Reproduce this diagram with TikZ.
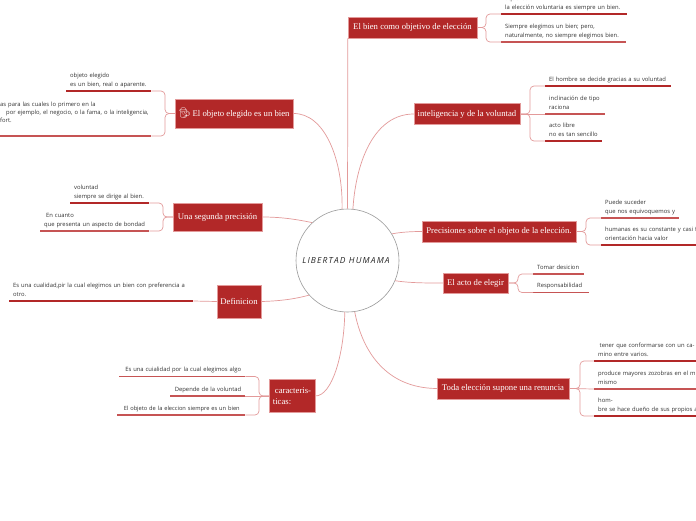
\documentclass[tikz,border=0pt]{standalone}
\usepackage{fontspec}
\setmainfont{Liberation Serif}
\setsansfont{Open Sans}
\newfontfamily\hubfont[LetterSpace=14]{Open Sans}
\newfontfamily\iconfont{Noto Emoji}
\usepackage{xcolor}
\usepackage{tikz}
\definecolor{BrickRed}{HTML}{B22828}
\definecolor{SoftRed}{HTML}{C65454}
\definecolor{PaleRed}{HTML}{E39A9A}
\definecolor{LeafInk}{HTML}{333333}

\begin{document}
\begin{tikzpicture}[
      x=1pt, y=-1pt,
      hub/.style={circle, draw=black!40, line width=0.6pt, fill=white,
                  minimum size=103pt, inner sep=0pt, text=black!85,
                  font=\hubfont\itshape\fontsize{8.4}{10}\selectfont},
      topic/.style={rectangle, draw=PaleRed, line width=0.5pt, fill=BrickRed,
                    text=white, align=center, inner sep=0pt,
                    font=\rmfamily\fontsize{8.7}{10.5}\selectfont},
      leaf/.style={inner xsep=4pt, inner ysep=0pt, text=LeafInk,
                   anchor=south west, align=left,
                   execute at end node={\rule[-4.5pt]{0pt}{4.5pt}},
                   font=\sffamily\fontsize{5.85}{8.4}\selectfont},
      ua/.style={line width=1.5pt, draw=BrickRed},
      ub/.style={line width=1.5pt, draw=SoftRed},
      link/.style={draw=PaleRed, line width=0.7pt},
      fork/.style={draw=PaleRed, line width=0.7pt, rounded corners=4pt},
    ]
      \clip (0,0) rectangle (696,520);
      \fill[white] (0,0) rectangle (696,520);

      \node[hub] (lib) at (347.5,260.5) {\hspace*{-3pt}LIBERTAD HUMAMA};

      % right side
      \node[topic, minimum width=129pt, minimum height=21pt] (bien) at (412.5,27.5) {El bien como objetivo de elección};
      \node[topic, minimum width=106pt, minimum height=21pt] (intel) at (467,114) {inteligencia y de la voluntad};
      \node[topic, minimum width=154pt, minimum height=21pt] (prec) at (499,231.5) {Precisiones sobre el objeto de la elección.};
      \node[topic, minimum width=65pt, minimum height=20pt] (acto) at (475.5,283) {El acto de elegir};
      \node[topic, minimum width=132pt, minimum height=21pt] (toda) at (503,388.5) {Toda elección supone una renuncia};

      % left side
      \node[topic, minimum width=118pt, minimum height=29pt] (obj) at (234,113.5) {{\iconfont\fontsize{10}{10}\selectfont 🕵}\,El objeto elegido es un bien};
      \node[topic, minimum width=89pt, minimum height=28pt] (seg) at (217.5,217) {Una segunda precisión};
      \node[topic, minimum width=44pt, minimum height=33pt] (defi) at (239,301.5) {Definicion};
      \node[topic, minimum width=46pt, minimum height=33pt, align=left] (car) at (292,396) {\hspace*{2pt}caracteris-\\ticas:};

      % leaves
      \node[leaf, text width=118pt] (b1) at (501,14) {aquel so\\la elección voluntaria es siempre un bien.};
      \node[leaf, text width=117pt] (b2) at (501,42) {Siempre elegimos un bien; pero,\\naturalmente, no siempre elegimos bien.};

      \node[leaf, text width=118pt] (i1) at (545,86) {El hombre se decide gracias a su voluntad};
      \node[leaf, text width=52pt]  (i2) at (545,114) {inclinación de tipo\\raciona};
      \node[leaf, text width=49pt]  (i3) at (545,141) {acto libre\\no es tan sencillo};

      \node[leaf, text width=70pt]  (p1) at (601,218) {Puede suceder\\que nos equivoquemos y};
      \node[leaf, text width=110pt] (p2) at (601,245) {humanas es su constante y casi f\\orientación hacia valor};

      \node[leaf, text width=43pt] (a1) at (533,274) {Tomar desicion};
      \node[leaf, text width=48pt] (a2) at (533,292.5) {Responsabilidad};

      \node[leaf, text width=110pt] (t1) at (594,361) {\hspace*{1.5pt}tener que conformarse con un ca-\\mino entre varios.};
      \node[leaf, text width=110pt] (t2) at (594,389) {produce mayores zozobras en el m\\mismo};
      \node[leaf, text width=110pt] (t3) at (594,416) {hom-\\bre se hace dueño de sus propios a};

      \node[leaf, text width=77pt]  (o1) at (66,91) {objeto elegido\\es un bien, real o aparente.};
      \node[leaf, text width=151pt, inner xsep=0pt,
            execute at end node={\rule[-13pt]{0pt}{13pt}}] (o2) at (0,136) {as para las cuales lo primero en la\\\hspace*{6pt}por ejemplo, el negocio, o la fama, o la inteligencia,\\fort.};

      \node[leaf, text width=71pt]  (s1) at (70,203) {voluntad\\siempre se dirige al bien.};
      \node[leaf, text width=101pt] (s2) at (40,231) {\hspace*{2pt}En cuanto\\que presenta un aspecto de bondad};

      \node[leaf, text width=176pt] (d1) at (9,301) {Es una cualidad,pir la cual elegimos un bien con preferencia a\\otro.};

      \node[leaf, text width=118pt, align=right] (c1) at (119,376.5) {Es una cuialidad por la cual elegimos algo};
      \node[leaf, text width=67pt, align=right]  (c2) at (170,396) {Depende de la voluntad};
      \node[leaf, text width=120pt, align=right,
            font=\sffamily\fontsize{5.7}{8.4}\selectfont] (c3) at (117,415) {El objeto de la eleccion siempre es un bien\hspace*{1.5pt}};

      % underlines
      \draw[ua] (b1.south west) -- (b1.south east);
      \draw[ub] (b2.south west) -- (b2.south east);
      \draw[ua] (i1.south west) -- (i1.south east);
      \draw[ub] (i2.south west) -- (i2.south east);
      \draw[ua] (i3.south west) -- (i3.south east);
      \draw[ub] (p1.south west) -- (p1.south east);
      \draw[ua] (p2.south west) -- (p2.south east);
      \draw[ub] (a1.south west) -- (a1.south east);
      \draw[ub] (a2.south west) -- (a2.south east);
      \draw[ua] (t1.south west) -- (t1.south east);
      \draw[ub] (t2.south west) -- (t2.south east);
      \draw[ua] (t3.south west) -- (t3.south east);
      \draw[ua] (o1.south west) -- (o1.south east);
      \draw[ub] (o2.south west) -- (o2.south east);
      \draw[ua] (s1.south west) -- (s1.south east);
      \draw[ub] (s2.south west) -- (s2.south east);
      \draw[ua] (d1.south west) -- (d1.south east);
      \draw[ub] (c1.south west) -- (c1.south east);
      \draw[ub] (c2.south west) -- (c2.south east);
      \draw[ub] (c3.south west) -- (c3.south east);

      % forks
      \draw[fork] (bien.east) -- (486,27.5) |- (b1.south west);
      \draw[fork] (bien.east) -- (486,27.5) |- (b2.south west);
      \draw[fork] (intel.east) -- (530,114) |- (i1.south west);
      \draw[link] (intel.east) -- (i2.south west);
      \draw[fork] (intel.east) -- (530,114) |- (i3.south west);
      \draw[fork] (prec.east) -- (586,231.5) |- (p1.south west);
      \draw[fork] (prec.east) -- (586,231.5) |- (p2.south west);
      \draw[fork] (acto.east) -- (518,283) |- (a1.south west);
      \draw[fork] (acto.east) -- (518,283) |- (a2.south west);
      \draw[fork] (toda.east) -- (580,388.5) |- (t1.south west);
      \draw[link] (toda.east) -- (t2.south west);
      \draw[fork] (toda.east) -- (580,388.5) |- (t3.south west);
      \draw[fork] (obj.west) -- (165,113.5) |- (o1.south east);
      \draw[fork] (obj.west) -- (165,113.5) |- (o2.south east);
      \draw[fork] (seg.west) -- (163,217) |- (s1.south east);
      \draw[fork] (seg.west) -- (163,217) |- (s2.south east);
      \draw[link] (defi.west) -- (d1.south east);
      \draw[fork] (car.west) -- (259,396) |- (c1.south east);
      \draw[link] (car.west) -- (c2.south east);
      \draw[fork] (car.west) -- (259,396) |- (c3.south east);

      % branches from the hub
      \draw[link] (lib.90) .. controls (347.5,160) and (348,90) .. (bien.south west);
      \draw[link] (lib.84) .. controls (356,160) and (375,114) .. (intel.west);
      \draw[link] (lib.31) .. controls (402,232) and (412,231.5) .. (prec.west);
      \draw[link] (lib.-23) .. controls (410,283) and (425,283) .. (acto.west);
      \draw[link] (lib.-82) .. controls (362,350) and (385,388) .. (toda.west);
      \draw[link] (lib.-93) .. controls (344,355) and (332,396) .. (car.east);
      \draw[link] (lib.-138) .. controls (295,299) and (280,301) .. (defi.east);
      \draw[link] (lib.133) .. controls (295,219) and (280,217) .. (seg.east);
      \draw[link] (lib.96) .. controls (343,160) and (325,113) .. (obj.east);
    \end{tikzpicture}
\end{document}
